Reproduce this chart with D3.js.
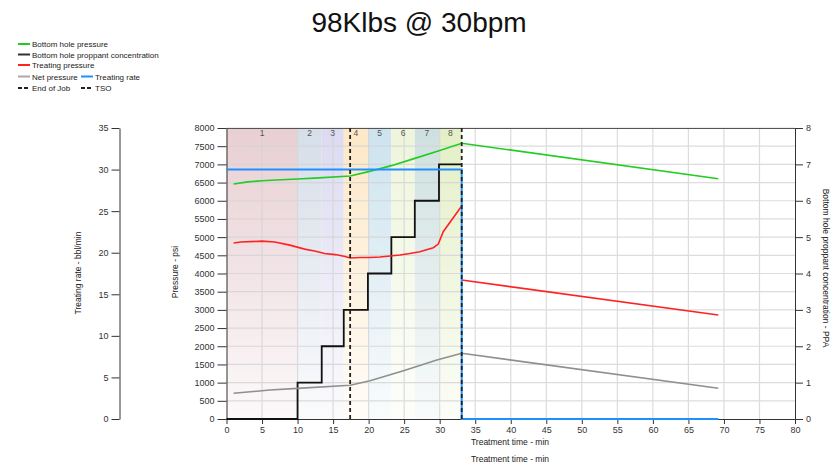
<!DOCTYPE html>
<html>
<head>
<meta charset="utf-8">
<script src="https://cdn.jsdelivr.net/npm/d3@7/dist/d3.min.js"></script>
<style>
  body { margin: 0; background: #fff; }
  svg { font-family: Arial, "Liberation Sans", sans-serif; }
  .tick text { font-size: 9px; fill: #333; }
  .axis path, .axis line { stroke: #333; }
</style>
</head>
<body>
<script>
// stage schedule
const stageLabels = ["1", "2", "3", "4", "5", "6", "7", "8"];
const stageStart = [0, 10, 13.4, 16.5, 19.9, 23.2, 26.5, 29.9];
const stageEnd = 33.1;
const stageColors = ["#e8cfd3", "#d6dee9", "#dcdaf1", "#fde8c6", "#cde3ee", "#eef5db", "#cde0df", "#e4efc6"];

// proppant concentration (PPA) per stage
const ppaValues = [0, 1, 2, 3, 4, 5, 6, 7];

// treating rate (bbl/min)
const rateTime = [0, 33.1, 33.1, 69.2];
const rateValues = [30, 30, 0, 0];

// bottom hole pressure (psi)
const bhpTime = [1, 3, 5, 7, 10, 13, 17.4, 20, 23.2, 26.5, 29.9, 33.1, 69.2];
const bhpValues = [6460, 6520, 6550, 6570, 6600, 6630, 6680, 6800, 6965, 7165, 7375, 7580, 6605];

// treating pressure (psi), pumping then shut-in
const tpTime = [1, 2, 5, 6.8, 8.9, 11, 12.4, 13.8, 15.3, 16.7, 17.4, 18.8, 20.2, 21.6, 23, 24.4, 25.8, 27.2, 29.1, 29.8, 30.5, 33.1];
const tpValues = [4840, 4865, 4890, 4865, 4780, 4670, 4620, 4550, 4520, 4470, 4425, 4440, 4440, 4455, 4480, 4510, 4550, 4600, 4710, 4810, 5150, 5856];
const tpShutTime = [33.1, 69.2];
const tpShutValues = [3820, 2860];

// net pressure (psi)
const npTime = [1, 6.1, 10, 17.4, 20.2, 24.9, 29.6, 33.1, 69.2];
const npValues = [706, 797, 843, 926, 1053, 1328, 1622, 1806, 845];

// event markers (min)
const endOfJob = 17.4;
const tso = 33.1;

const xTicks = d3.range(0, 81, 5);
const pTicks = d3.range(0, 8001, 500);
const rTicks = d3.range(0, 36, 5);
const cTicks = d3.range(0, 9, 1);

const W = 838, H = 466;
const plotL = 226.5, plotR = 795, plotT = 128, plotB = 419;

const svg = d3.select("body").append("svg").attr("width", W).attr("height", H);

const x = d3.scaleLinear().domain([0, 80]).range([plotL, plotR]);
const yP = d3.scaleLinear().domain([0, 8000]).range([plotB, plotT]);
const yR = d3.scaleLinear().domain([0, 35]).range([plotB, plotT]);
const yC = d3.scaleLinear().domain([0, 8]).range([plotB, plotT]);

// title
svg.append("text").attr("x", 419).attr("y", 32).attr("text-anchor", "middle")
  .style("font-size", "28px").style("fill", "#111").text("98Klbs @ 30bpm");

// stage bands with vertical fade
const defs = svg.append("defs");
stageColors.forEach((c, i) => {
  const g = defs.append("linearGradient").attr("id", "band" + i)
    .attr("x1", 0).attr("y1", 0).attr("x2", 0).attr("y2", 1);
  g.append("stop").attr("offset", "0%").attr("stop-color", c);
  g.append("stop").attr("offset", "100%").attr("stop-color", d3.interpolateRgb(c, "#fff")(0.88));
});
const stageEnds = stageStart.slice(1).concat([stageEnd]);
svg.append("g").selectAll("rect").data(stageStart).join("rect")
  .attr("x", (d) => x(d))
  .attr("y", plotT)
  .attr("width", (d, i) => x(stageEnds[i]) - x(d))
  .attr("height", plotB - plotT)
  .attr("fill", (d, i) => "url(#band" + i + ")");

// grid
const grid = svg.append("g").attr("stroke", "#d4d4d4").attr("stroke-width", 1.2).attr("opacity", 0.8);
grid.selectAll(".h").data(pTicks.slice(1)).join("line")
  .attr("x1", plotL).attr("x2", plotR)
  .attr("y1", (d) => yP(d)).attr("y2", (d) => yP(d));
grid.selectAll(".v").data(xTicks.slice(1, -1)).join("line")
  .attr("y1", plotT).attr("y2", plotB)
  .attr("x1", (d) => x(d)).attr("x2", (d) => x(d));

// top border
svg.append("line").attr("x1", plotL).attr("x2", plotR).attr("y1", plotT + 0.5).attr("y2", plotT + 0.5)
  .attr("stroke", "#555");

// stage numbers
svg.append("g").selectAll("text").data(stageLabels).join("text")
  .attr("x", (d, i) => (x(stageStart[i]) + x(stageEnds[i])) / 2)
  .attr("y", plotT + 8)
  .attr("text-anchor", "middle")
  .style("font-size", "8.5px").style("fill", "#555")
  .text((d) => d);

// axes
svg.append("g").attr("class", "axis").attr("transform", "translate(0," + plotB + ")")
  .call(d3.axisBottom(x).tickValues(xTicks).tickSize(5).tickSizeOuter(0));
svg.append("g").attr("class", "axis").attr("transform", "translate(" + plotL + ",0)")
  .call(d3.axisLeft(yP).tickValues(pTicks).tickFormat(d3.format("d")).tickSize(9).tickSizeOuter(0));
svg.append("g").attr("class", "axis").attr("transform", "translate(119.5,0)")
  .call(d3.axisLeft(yR).tickValues(rTicks).tickSize(8).tickSizeOuter(0));
svg.append("g").attr("class", "axis").attr("transform", "translate(" + plotR + ",0)")
  .call(d3.axisRight(yC).tickValues(cTicks).tickSize(8).tickSizeOuter(0));

// axis titles
const axTitle = (t, tx, ty, rot) => svg.append("text")
  .attr("transform", "translate(" + tx + "," + ty + ") rotate(" + rot + ")")
  .attr("text-anchor", "middle").style("font-size", "8.5px").style("fill", "#222").text(t);
axTitle("Treating rate - bbl/min", 81, 273, -90);
axTitle("Pressure - psi", 178, 272, -90);
axTitle("Bottom hole proppant concentration - PPA", 823, 268, 90);
axTitle("Treatment time - min", 510, 445, 0);
axTitle("Treatment time - min", 510, 462, 0);

// series
const line = (xs, ys, yScale) => d3.line().x((d, i) => x(xs[i])).y((d) => yScale(d))(ys);

// proppant concentration step
const ppaTime = stageStart.concat([stageEnd]);
const ppaStep = ppaValues.concat([ppaValues[ppaValues.length - 1]]);
svg.append("path")
  .attr("d", d3.line().curve(d3.curveStepAfter).x((d, i) => x(ppaTime[i])).y((d) => yC(d))(ppaStep))
  .attr("fill", "none").attr("stroke", "#111").attr("stroke-width", 1.8);

svg.append("path").attr("d", line(npTime, npValues, yP))
  .attr("fill", "none").attr("stroke", "#8f8f8f").attr("stroke-width", 1.6);
svg.append("path").attr("d", line(tpTime, tpValues, yP))
  .attr("fill", "none").attr("stroke", "#ff2222").attr("stroke-width", 1.6);
svg.append("path").attr("d", line(tpShutTime, tpShutValues, yP))
  .attr("fill", "none").attr("stroke", "#ff2222").attr("stroke-width", 1.6);
svg.append("path").attr("d", line(bhpTime, bhpValues, yP))
  .attr("fill", "none").attr("stroke", "#22cc22").attr("stroke-width", 1.6);
svg.append("path").attr("d", line(rateTime, rateValues, yR))
  .attr("fill", "none").attr("stroke", "#1e90ff").attr("stroke-width", 2);

// event markers
[endOfJob, tso].forEach((t) => {
  svg.append("line").attr("x1", x(t)).attr("x2", x(t)).attr("y1", plotT).attr("y2", plotB)
    .attr("stroke", "#222").attr("stroke-width", 1.8).attr("stroke-dasharray", "4,3");
});

// legend
const legendItems = [
  { label: "Bottom hole pressure", color: "#22cc22", dash: null, lx: 18, ly: 44 },
  { label: "Bottom hole proppant concentration", color: "#333", dash: null, lx: 18, ly: 54.5 },
  { label: "Treating pressure", color: "#ff2222", dash: null, lx: 18, ly: 65 },
  { label: "Net pressure", color: "#aaa", dash: null, lx: 18, ly: 76.5 },
  { label: "Treating rate", color: "#1e90ff", dash: null, lx: 81, ly: 76.5 },
  { label: "End of Job", color: "#222", dash: "4,2", lx: 18, ly: 88 },
  { label: "TSO", color: "#222", dash: "4,2", lx: 81, ly: 88 }
];
const lg = svg.append("g").selectAll("g").data(legendItems).join("g")
  .attr("transform", (d) => "translate(" + d.lx + "," + d.ly + ")");
lg.append("line").attr("x1", 0).attr("x2", 12).attr("y1", 0).attr("y2", 0)
  .attr("stroke", (d) => d.color).attr("stroke-width", 2)
  .attr("stroke-dasharray", (d) => d.dash);
lg.append("text").attr("x", 14).attr("y", 3).style("font-size", "8px").style("fill", "#222")
  .text((d) => d.label);
</script>
</body>
</html>
